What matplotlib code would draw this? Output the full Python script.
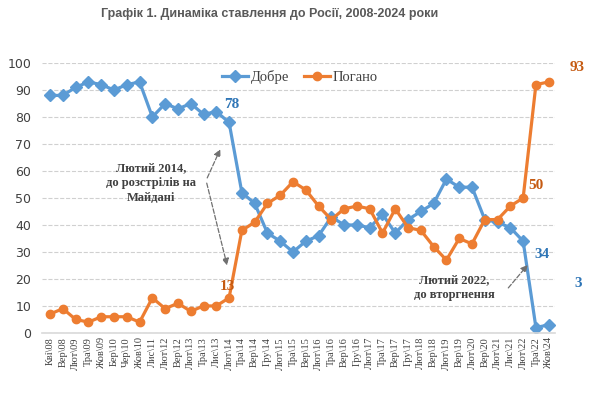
import matplotlib.pyplot as plt

labels = ["Кві\\08", "Вер\\08", "Лют\\09", "Тра\\09", "Жов\\09", "Бер\\10", "Чер\\10", "Жов\\10",
          "Лис\\11", "Лют\\12", "Вер\\12", "Лют\\13", "Тра\\13", "Лис\\13", "Лют\\14", "Тра\\14",
          "Вер\\14", "Гру\\14", "Лют\\15", "Тра\\15", "Вер\\15", "Лют\\16", "Тра\\16", "Вер\\16",
          "Гру\\16", "Лют\\17", "Тра\\17", "Вер\\17", "Гру\\17", "Лют\\18", "Вер\\18", "Лют\\19",
          "Вер\\19", "Лют\\20", "Вер\\20", "Лют\\21", "Лис\\21", "Лют\\22", "Тра\\22", "Жов\\24"]
good = [88, 88, 91, 93, 92, 90, 92, 93, 80, 85, 83, 85, 81, 82, 78, 52, 48, 37, 34, 30,
        34, 36, 43, 40, 40, 39, 44, 37, 42, 45, 48, 57, 54, 54, 42, 41, 39, 34, 2, 3]
bad = [7, 9, 5, 4, 6, 6, 6, 4, 13, 9, 11, 8, 10, 10, 13, 38, 41, 48, 51, 56,
       53, 47, 42, 46, 47, 46, 37, 46, 39, 38, 32, 27, 35, 33, 42, 42, 47, 50, 92, 93]

blue = "#5B9BD5"
orange = "#ED7D31"
serif = "Liberation Serif"

fig = plt.figure(figsize=(6.06, 3.94), dpi=100)
ax = fig.add_axes([0.07, 0.155, 0.846, 0.685])
x = list(range(len(labels)))

ax.plot(x, good, color=blue, lw=2.3, marker="D", ms=6, label="Добре")
ax.plot(x, bad, color=orange, lw=2.3, marker="o", ms=6, label="Погано")

ax.set_ylim(0, 100)
ax.set_xlim(-0.6, 39.5)
ax.set_yticks(range(0, 101, 10))
ax.set_xticks(x)
ax.set_xticklabels(labels, rotation=90, family=serif, fontsize=7.5, color="#404040")
ax.tick_params(axis="y", labelsize=9, colors="#404040", length=0, pad=8)
ax.tick_params(axis="x", length=0, pad=3)
ax.grid(axis="y", color="#d0d0d0", ls="--", lw=0.8)
ax.set_axisbelow(True)
for s in ["left", "right", "top"]:
    ax.spines[s].set_visible(False)
ax.spines["bottom"].set_color("#d9d9d9")
ax.spines["bottom"].set_linewidth(1.2)

fig.legend(loc="center", bbox_to_anchor=(0.495, 0.805), ncol=2, frameon=False,
           prop={"family": serif, "size": 10.5}, handlelength=1.8, columnspacing=1.0,
           handletextpad=0.2, labelcolor="#404040")

fig.text(0.445, 0.965, "Графік 1. Динаміка ставлення до Росії, 2008-2024 роки",
         ha="center", va="center", fontsize=9, weight="bold", color="#595959",
         family="Liberation Sans")

dblue = "#2E75B6"
dorange = "#C55A11"
num = dict(family=serif, weight="bold", fontsize=11, ha="center", va="center", clip_on=False)
ax.text(14.2, 84.5, "78", color=dblue, **num)
ax.text(13.9, 17.3, "13", color=dorange, **num)
ax.text(38.0, 54.8, "50", color=dorange, **num)
ax.text(41.2, 98.5, "93", color=dorange, **num)
ax.text(38.5, 28.9, "34", color=dblue, **num)
ax.text(41.3, 18.3, "3", color=dblue, **num)

note = dict(family=serif, weight="bold", fontsize=9, ha="center", va="center",
            color="#404040", linespacing=1.3)
ax.text(7.9, 55.5, "Лютий 2014,\nдо розстрілів на\nМайдані", **note)
ax.text(31.6, 16.7, "Лютий 2022,\nдо вторгнення", **note)

arrow = dict(arrowstyle="-|>", ls="--", color="#707070", lw=0.9, mutation_scale=10)
ax.annotate("", xy=(13.4, 69), xytext=(12.2, 56.5), arrowprops=arrow)
ax.annotate("", xy=(13.9, 24), xytext=(12.2, 56.5), arrowprops=arrow)
ax.annotate("", xy=(37.5, 26), xytext=(35.7, 15.9), arrowprops=arrow)

fig.savefig("out.png", dpi=100)
